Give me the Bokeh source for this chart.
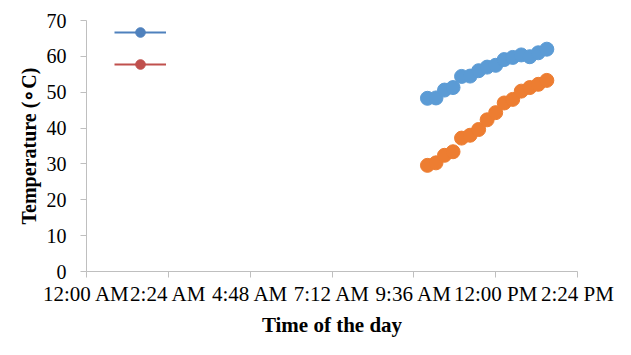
from bokeh.plotting import figure
from bokeh.models import FixedTicker, Legend, LegendItem, ColumnDataSource, Range1d
from bokeh.embed import file_html
from bokeh.resources import INLINE

# ---- data ----
times = ["10:00", "10:15", "10:30", "10:45", "11:00", "11:15", "11:30", "11:45",
         "12:00", "12:15", "12:30", "12:45", "13:00", "13:15", "13:30"]
series_a = [48.3, 48.4, 50.6, 51.3, 54.4, 54.5, 56.0, 57.0, 57.5, 59.1, 59.7, 60.4, 59.9, 61.0, 62.0]
series_b = [29.6, 30.3, 32.4, 33.4, 37.2, 38.0, 39.6, 42.3, 44.3, 47.0, 48.0, 50.3, 51.3, 52.2, 53.3]
x_tick_hours = [0, 2.4, 4.8, 7.2, 9.6, 12.0, 14.4]
x_tick_labels = ["12:00 AM", "2:24 AM", "4:48 AM", "7:12 AM", "9:36 AM", "12:00 PM", "2:24 PM"]
y_ticks = [0, 10, 20, 30, 40, 50, 60, 70]

hours = [int(t.split(":")[0]) + int(t.split(":")[1]) / 60 for t in times]
src = ColumnDataSource(dict(x=hours, a=series_a, b=series_b))

FONT = "Liberation Serif"

p = figure(width=615, height=339, output_backend="svg", toolbar_location=None,
           x_range=Range1d(0, 14.4), y_range=Range1d(0, 70),
           min_border_left=86, min_border_right=38, min_border_top=20, min_border_bottom=60)
p.outline_line_color = None
p.grid.visible = False

p.scatter("x", "a", source=src, size=14, color="#5B9BD5")
p.scatter("x", "b", source=src, size=14, color="#ED7D31")

# axes
for ax in (p.xaxis[0], p.yaxis[0]):
    ax.axis_line_color = "#BFBFBF"
    ax.major_tick_line_color = "#BFBFBF"
    ax.minor_tick_line_color = None
    ax.major_tick_out = 6
    ax.major_tick_in = 0
    ax.major_label_text_font = FONT
    ax.major_label_text_color = "#000000"
    ax.axis_label_text_font = FONT
    ax.axis_label_text_font_style = "bold"
    ax.axis_label_text_color = "#000000"

p.xaxis.ticker = FixedTicker(ticks=x_tick_hours)
p.xaxis.major_label_overrides = {t: l for t, l in zip(x_tick_hours, x_tick_labels)}
p.xaxis.major_label_text_font_size = "21px"
p.xaxis.major_label_standoff = 4
p.xaxis.axis_label = "Time of the day"
p.xaxis.axis_label_text_font_size = "21px"
p.xaxis.axis_label_standoff = 4

p.yaxis.ticker = FixedTicker(ticks=y_ticks)
p.yaxis.major_label_text_font_size = "20px"
p.yaxis.major_label_standoff = 14
p.yaxis.axis_label = "Temperature (\u2218C)"
p.yaxis.axis_label_text_font_size = "20px"
p.yaxis.axis_label_standoff = 4

# legend (blank labels, as in the reference); its renderers are hidden in the plot
r1l = p.line("x", "a", source=src, line_color="#4F81BD", line_width=2, visible=False)
r1c = p.scatter("x", "a", source=src, size=10, color="#4F81BD", visible=False)
r2l = p.line("x", "b", source=src, line_color="#C0504D", line_width=2, visible=False)
r2c = p.scatter("x", "b", source=src, size=10, color="#C0504D", visible=False)
legend = Legend(items=[LegendItem(label=" ", renderers=[r1l, r1c]),
                       LegendItem(label=" ", renderers=[r2l, r2c])],
                location=(28, 195), margin=0, padding=0, spacing=8,
                glyph_width=52, glyph_height=24, label_height=24, label_width=1,
                background_fill_alpha=0, border_line_alpha=0,
                inactive_fill_alpha=0, label_text_font_size="1px")
p.add_layout(legend)

open("out.html", "w").write(file_html(p, INLINE))
